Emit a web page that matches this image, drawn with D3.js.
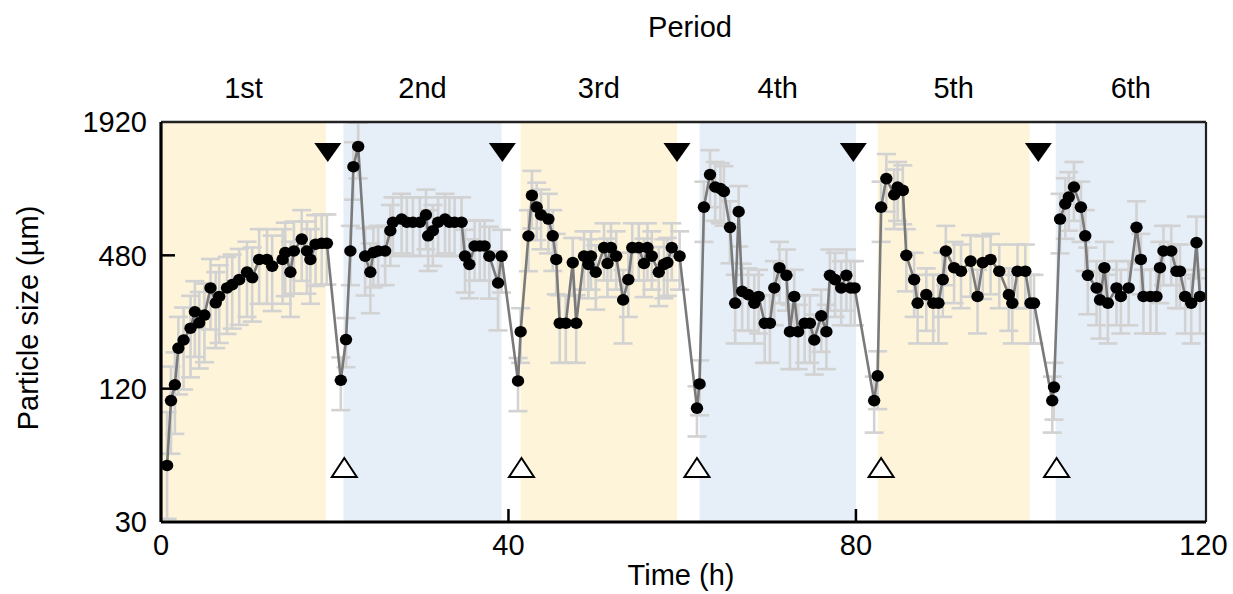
<!DOCTYPE html>
<html>
<head>
<meta charset="utf-8">
<script src="https://cdn.jsdelivr.net/npm/d3@7"></script>
<style>
  body { margin: 0; background: #fff; }
  text { font-family: "Liberation Sans", Arial, sans-serif; fill: #000; }
</style>
</head>
<body>
<svg></svg>
<script>
'use strict';

// measured time (h)
var times = [
  0.7, 1.15, 1.6, 2.0, 2.6, 3.4, 3.9, 4.4, 5.0, 5.7, 6.3, 6.7, 7.6, 8.2, 9.0, 9.9, 10.5, 11.3, 12.2, 12.8,
  14.0, 14.3, 14.9, 15.3, 16.2, 16.8, 17.2, 17.8, 18.5, 19.1,
  20.7, 21.3, 21.8, 22.15, 22.7, 23.5, 24.1, 24.45, 25.0, 25.8, 26.4, 26.7, 27.7, 28.3, 29.0, 29.8, 30.5, 30.75,
  31.3, 31.9, 32.7, 33.2, 33.8, 34.6, 35.0, 35.5, 36.1, 36.7, 37.25, 37.8, 38.8, 39.2,
  41.1, 41.4, 42.3, 42.7, 43.25, 43.75, 44.6, 45.1, 45.5, 45.9, 46.6, 47.4, 47.8, 48.7, 49.2, 49.5, 50.05,
  51.0, 51.4, 51.8, 52.4, 53.2, 53.8, 54.25, 55.0, 55.6, 56.0, 56.5, 57.3, 57.9, 58.3, 58.8, 59.7,
  61.7, 62.0, 62.5, 63.2, 63.8, 64.4, 64.8, 65.5, 66.1, 66.5, 66.9, 67.6, 68.3, 68.8, 69.5, 70.1, 70.6,
  71.2, 72.0, 72.4, 72.9, 73.35, 74.1, 74.7, 75.2, 76.0, 76.6, 77.0, 77.6, 78.3, 78.9, 79.4, 79.85,
  82.1, 82.5, 82.9, 83.5, 84.4, 84.8, 85.4, 85.8, 86.7, 87.1, 88.1, 88.9, 89.5, 90.0, 90.35, 91.3, 92.1,
  93.2, 94.0, 94.6, 95.5, 96.5, 97.6, 98.0, 98.6, 99.5, 100.1, 100.5,
  102.6, 102.8, 103.5, 104.1, 104.5, 105.1, 105.9, 106.4, 106.7, 107.7, 108.1, 108.6, 109.0, 110.0, 110.5,
  111.4, 112.3, 112.8, 113.1, 113.9, 114.6, 115.0, 115.4, 116.3, 116.9, 117.3, 117.9, 118.6, 119.2, 119.6
];

// mean particle size (um)
var sizes = [
  54, 106, 125, 183, 199, 225, 267, 238, 258, 342, 293, 313, 342, 354, 373, 403, 381, 460, 460, 429,
  460, 494, 403, 502, 568, 502, 460, 539, 544, 544,
  131, 200, 502, 1206, 1488, 476, 403, 494, 502, 502, 620, 677, 700, 677, 677, 677, 731, 588,
  620, 677, 700, 677, 677, 677, 476, 437, 529, 529, 529, 476, 360, 476,
  130, 217, 587, 895, 792, 731, 700, 588, 460, 237, 237, 445, 237, 476, 437, 476, 403,
  520, 441, 520, 476, 302, 373, 520, 520, 441, 520, 476, 403, 437, 445, 520, 476,
  98, 126, 792, 1112, 977, 960, 933, 642, 292, 756, 330, 319, 292, 313, 237, 237, 342,
  422, 390, 217, 313, 217, 237, 237, 199, 256, 217, 390, 373, 342, 390, 342, 342,
  106, 137, 792, 1066, 901, 977, 943, 480, 373, 292, 319, 292, 292, 373, 502, 422, 407,
  452, 313, 445, 460, 407, 319, 292, 407, 407, 292, 292,
  106, 122, 700, 820, 880, 977, 792, 588, 390, 342, 302, 422, 292, 342, 313,
  342, 642, 460, 313, 313, 313, 422, 502, 502, 407, 407, 313, 292, 548, 313
];

// standard deviation (um)
var sds = [
  40, 45, 50, 70, 80, 90, 100, 90, 100, 120, 110, 120, 130, 130, 140, 150, 140, 170, 170, 160,
  170, 180, 150, 180, 200, 180, 170, 190, 190, 190,
  35, 50, 150, 350, 420, 160, 140, 150, 150, 150, 190, 200, 210, 200, 200, 200, 220, 180,
  190, 200, 210, 200, 200, 200, 150, 130, 160, 160, 160, 170, 140, 150,
  35, 60, 180, 260, 230, 220, 210, 180, 140, 80, 80, 130, 80, 140, 130, 140, 130,
  150, 130, 150, 140, 110, 120, 150, 150, 130, 150, 140, 120, 130, 130, 150, 140,
  25, 35, 240, 320, 290, 290, 280, 200, 100, 230, 110, 100, 100, 100, 80, 80, 110,
  130, 120, 70, 100, 70, 80, 80, 60, 80, 70, 120, 120, 110, 120, 110, 110,
  30, 40, 240, 310, 270, 290, 280, 150, 120, 100, 100, 100, 100, 120, 150, 130, 130,
  140, 100, 140, 140, 130, 100, 100, 130, 130, 100, 100,
  30, 35, 210, 250, 260, 290, 240, 180, 130, 110, 100, 130, 100, 110, 100,
  110, 200, 140, 100, 100, 100, 130, 150, 150, 130, 130, 100, 100, 170, 100
];

// shaded periods
var periodNames = ['1st', '2nd', '3rd', '4th', '5th', '6th'];
var periodStart = [0, 21, 41.4, 62, 82.5, 103];
var periodEnd = [19, 39.2, 59.4, 80, 100, 120.3];
var periodColor = ['#fef4da', '#e6eef8', '#fef4da', '#e6eef8', '#fef4da', '#e6eef8'];

// event markers
var stopTimes = [19.2, 39.3, 59.4, 79.7, 101.0];
var startTimes = [21.1, 41.5, 61.7, 82.9, 103.1];

var xTicks = [0, 40, 80, 120];
var yTicks = [30, 120, 480, 1920];

var canvasWidth = 1233;
var canvasHeight = 594;
var margin = { top: 122, right: 27, bottom: 72, left: 161 };
var width = canvasWidth - margin.left - margin.right;
var height = canvasHeight - margin.top - margin.bottom;

var svg = d3.select('svg')
  .attr('width', canvasWidth)
  .attr('height', canvasHeight);

var xScale = d3.scaleLinear()
  .domain([0, 120.3])
  .range([0, width]);

var yScale = d3.scaleLog()
  .domain([30, 1920])
  .range([height, 0]);

var data = times.map(function(t, i) {
  return { t: t, v: sizes[i], sd: sds[i] };
});

var g = svg.append('g')
  .attr('transform', 'translate(' + margin.left + ',' + margin.top + ')');

svg.append('defs').append('clipPath')
  .attr('id', 'plotClip')
  .append('rect')
  .attr('width', width)
  .attr('height', height);

// background bands
g.selectAll('.band')
  .data(periodNames)
  .enter()
  .append('rect')
  .attr('class', 'band')
  .attr('x', function(d, i) { return xScale(periodStart[i]); })
  .attr('y', 0)
  .attr('width', function(d, i) { return xScale(periodEnd[i]) - xScale(periodStart[i]); })
  .attr('height', height)
  .attr('fill', function(d, i) { return periodColor[i]; });

var plot = g.append('g').attr('clip-path', 'url(#plotClip)');

// error bars
var capW = 9.5;
var bars = plot.selectAll('.err')
  .data(data)
  .enter()
  .append('g')
  .attr('class', 'err')
  .attr('stroke', '#d2d2d2')
  .attr('stroke-width', 2.6);

bars.append('line')
  .attr('x1', function(d) { return xScale(d.t); })
  .attr('x2', function(d) { return xScale(d.t); })
  .attr('y1', function(d) { return yScale(d.v + d.sd); })
  .attr('y2', function(d) { return yScale(Math.max(d.v - d.sd, 31)); });

bars.append('line')
  .attr('x1', function(d) { return xScale(d.t) - capW; })
  .attr('x2', function(d) { return xScale(d.t) + capW; })
  .attr('y1', function(d) { return yScale(d.v + d.sd); })
  .attr('y2', function(d) { return yScale(d.v + d.sd); });

bars.append('line')
  .attr('x1', function(d) { return xScale(d.t) - capW; })
  .attr('x2', function(d) { return xScale(d.t) + capW; })
  .attr('y1', function(d) { return yScale(Math.max(d.v - d.sd, 31)); })
  .attr('y2', function(d) { return yScale(Math.max(d.v - d.sd, 31)); });

// connecting line
var line = d3.line()
  .x(function(d) { return xScale(d.t); })
  .y(function(d) { return yScale(d.v); });

plot.append('path')
  .datum(data)
  .attr('d', line)
  .attr('fill', 'none')
  .attr('stroke', '#7a7a7a')
  .attr('stroke-width', 2.6);

plot.selectAll('.dot')
  .data(data)
  .enter()
  .append('ellipse')
  .attr('class', 'dot')
  .attr('cx', function(d) { return xScale(d.t); })
  .attr('cy', function(d) { return yScale(d.v); })
  .attr('rx', 6.2)
  .attr('ry', 5.8)
  .attr('fill', '#000');

// triangles
g.selectAll('.stop')
  .data(stopTimes)
  .enter()
  .append('path')
  .attr('class', 'stop')
  .attr('d', function(d) {
    var x = xScale(d);
    return 'M' + (x - 13.5) + ',21L' + (x + 13.5) + ',21L' + x + ',40Z';
  })
  .attr('fill', '#000');

g.selectAll('.start')
  .data(startTimes)
  .enter()
  .append('path')
  .attr('class', 'start')
  .attr('d', function(d) {
    var x = xScale(d);
    return 'M' + (x - 12.5) + ',' + (height - 45) + 'L' + (x + 12.5) + ',' + (height - 45) + 'L' + x + ',' + (height - 64) + 'Z';
  })
  .attr('fill', '#fff')
  .attr('stroke', '#000')
  .attr('stroke-width', 2);

// ticks inside the frame
g.selectAll('.ytick')
  .data(yTicks.slice(1, 3))
  .enter()
  .append('line')
  .attr('x1', 0)
  .attr('x2', 14)
  .attr('y1', function(d) { return yScale(d); })
  .attr('y2', function(d) { return yScale(d); })
  .attr('stroke', '#000')
  .attr('stroke-width', 2.5);

g.selectAll('.xtick')
  .data(xTicks.slice(1, 3))
  .enter()
  .append('line')
  .attr('x1', function(d) { return xScale(d); })
  .attr('x2', function(d) { return xScale(d); })
  .attr('y1', height)
  .attr('y2', height - 13)
  .attr('stroke', '#000')
  .attr('stroke-width', 2.5);

// frame
g.append('line').attr('x1', 0).attr('x2', width).attr('y1', 0).attr('y2', 0)
  .attr('stroke', '#222').attr('stroke-width', 2.5);
g.append('line').attr('x1', width).attr('x2', width).attr('y1', 0).attr('y2', height)
  .attr('stroke', '#222').attr('stroke-width', 2.2);
g.append('line').attr('x1', 0).attr('x2', width).attr('y1', height).attr('y2', height)
  .attr('stroke', '#000').attr('stroke-width', 3);
g.append('line').attr('x1', 0).attr('x2', 0).attr('y1', 0).attr('y2', height)
  .attr('stroke', '#000').attr('stroke-width', 3.2);

// tick labels
g.selectAll('.ylab')
  .data(yTicks)
  .enter()
  .append('text')
  .attr('x', -14)
  .attr('y', function(d) { return yScale(d); })
  .attr('dy', '0.36em')
  .attr('text-anchor', 'end')
  .style('font-size', '29px')
  .text(function(d) { return d; });

g.selectAll('.xlab')
  .data(xTicks)
  .enter()
  .append('text')
  .attr('x', function(d) { return xScale(d); })
  .attr('y', height + 33)
  .attr('text-anchor', 'middle')
  .style('font-size', '29px')
  .text(function(d) { return d; });

// period labels
g.selectAll('.plab')
  .data(periodNames)
  .enter()
  .append('text')
  .attr('x', function(d, i) { return (xScale(periodStart[i]) + xScale(periodEnd[i])) / 2; })
  .attr('y', -24)
  .attr('text-anchor', 'middle')
  .style('font-size', '29px')
  .text(function(d) { return d; });

// titles
svg.append('text')
  .attr('x', 690)
  .attr('y', 37)
  .attr('text-anchor', 'middle')
  .style('font-size', '29px')
  .text('Period');

svg.append('text')
  .attr('x', 681)
  .attr('y', 585)
  .attr('text-anchor', 'middle')
  .style('font-size', '29px')
  .text('Time (h)');

svg.append('text')
  .attr('transform', 'translate(38,318) rotate(-90)')
  .attr('text-anchor', 'middle')
  .style('font-size', '29px')
  .text('Particle size (µm)');
</script>
</body>
</html>
